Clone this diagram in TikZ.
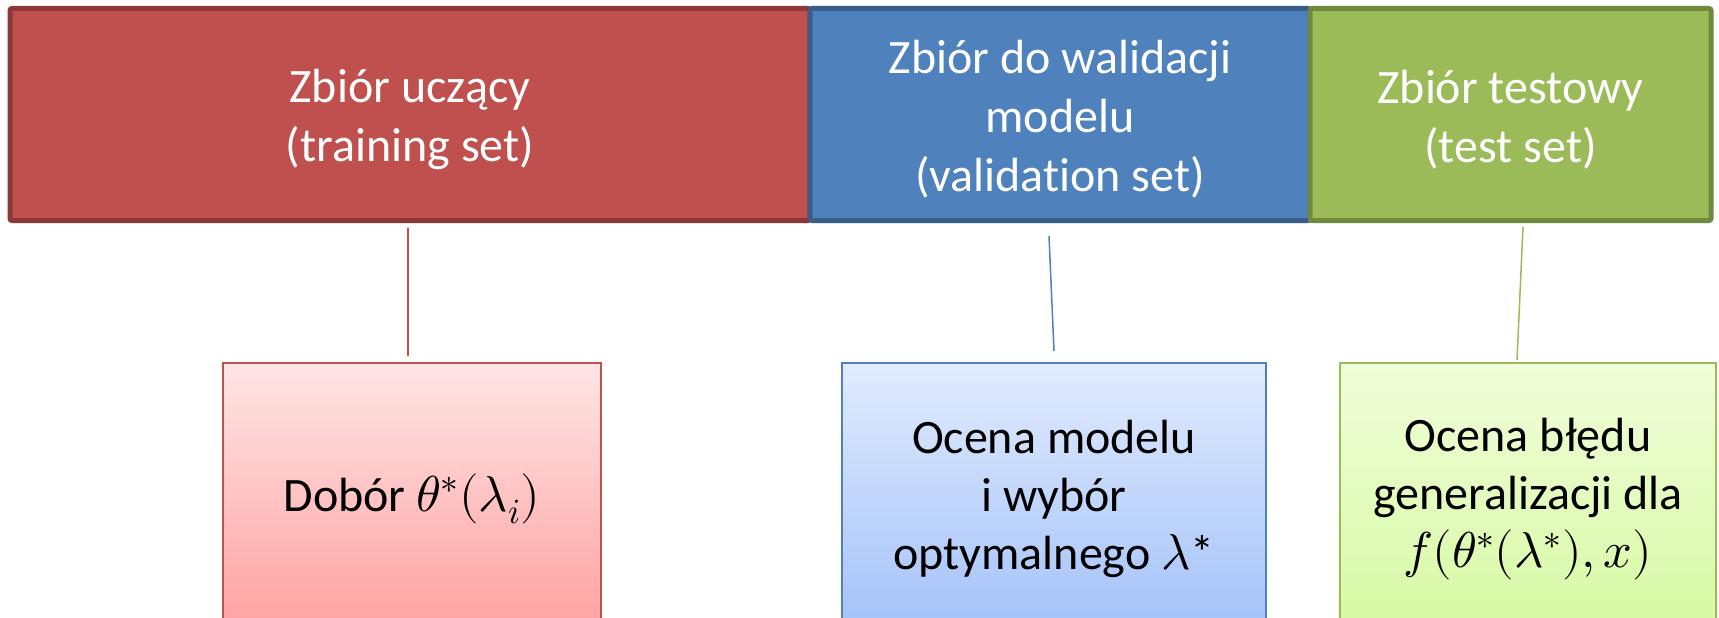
\documentclass[tikz,border=0pt]{standalone}
\usepackage{fontspec}
\usepackage{unicode-math}
\setmainfont{Carlito}[Ligatures=NoCommon]
\setmathfont{Latin Modern Math}[Scale=1.05]
\definecolor{redF}{RGB}{192,80,77}
\definecolor{redD}{RGB}{140,56,54}
\definecolor{bluF}{RGB}{79,129,189}
\definecolor{bluD}{RGB}{56,93,138}
\definecolor{grnF}{RGB}{155,187,89}
\definecolor{grnD}{RGB}{113,137,63}
\definecolor{redT}{RGB}{255,229,229}
\definecolor{redB}{RGB}{255,160,160}
\definecolor{bluT}{RGB}{225,235,253}
\definecolor{bluB}{RGB}{162,193,249}
\definecolor{grnT}{RGB}{240,253,217}
\definecolor{grnB}{RGB}{214,249,163}
\tikzset{
  setbox/.style={rectangle, line width=5pt, rounded corners=2pt, inner sep=0pt, outer sep=0pt,
    minimum height=212pt},
  settext/.style={text=white, align=center, yshift=-5pt,
    font=\fontsize{48}{59}\selectfont},
  taskbox/.style={rectangle, line width=2pt, inner sep=0pt, outer sep=0pt,
    minimum height=272pt, text=black, align=center,
    font=\fontsize{48}{58}\selectfont},
  link/.style={line width=1.5pt}
}
\begin{document}
\begin{tikzpicture}[x=1pt,y=-1pt]
\useasboundingbox (0,0) rectangle (1719,618);
\clip (0,0) rectangle (1719,618);
\node[setbox, fill=redF, draw=redD, minimum width=800pt,
  label={[settext]center:Zbiór uczący\\(training set)}] (t1) at (410,114.5) {};
\node[setbox, fill=bluF, draw=bluD, minimum width=500pt,
  label={[settext]center:Zbiór do walidacji\\modelu\\(validation set)}] (t2) at (1060,114.5) {};
\node[setbox, fill=grnF, draw=grnD, minimum width=401pt,
  label={[settext]center:Zbiór testowy\\(test set)}] (t3) at (1510.5,114.5) {};
\node[taskbox, draw=redF, top color=redT, bottom color=redB, minimum width=378pt] (b1) at (412,499)
  {Dobór $\theta^{*}(\lambda_{i})$};
\node[taskbox, draw=bluF, top color=bluT, bottom color=bluB, minimum width=424pt] (b2) at (1054,499)
  {Ocena modelu\\i wybór\\optymalnego $\lambda$*};
\node[taskbox, draw=grnF, top color=grnT, bottom color=grnB, minimum width=376pt] (b3) at (1528,499)
  {Ocena błędu\\generalizacji dla\\$f(\theta^{*}(\lambda^{*}),x)$};
\coordinate (a1) at (408,228);
\coordinate (e1) at (408,356);
\coordinate (a2) at (1049,236);
\coordinate (e2) at (1054,351);
\coordinate (a3) at (1523,227);
\coordinate (e3) at (1517,360);
\draw[link, draw=redF] (a1) -- (e1);
\draw[link, draw=bluF] (a2) -- (e2);
\draw[link, draw=grnF] (a3) -- (e3);
\end{tikzpicture}
\end{document}
